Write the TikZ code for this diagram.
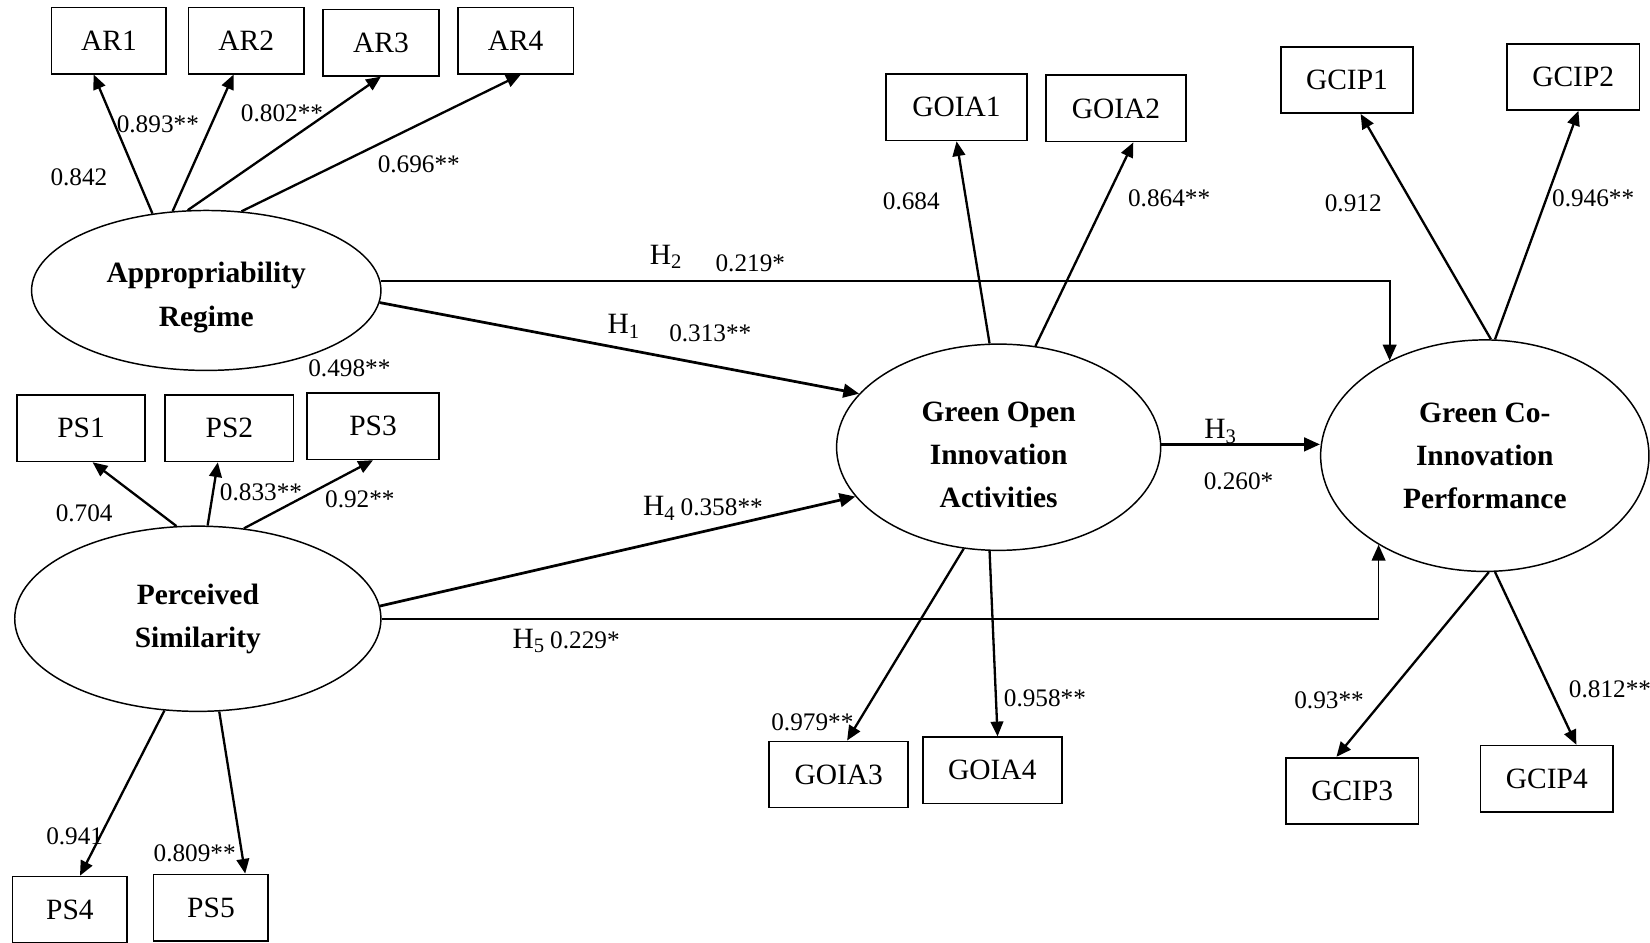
\documentclass[tikz,border=0pt]{standalone}
\usepackage{fontspec}
\setmainfont{Liberation Serif}
\usepackage{tikz}
\usetikzlibrary{shapes.geometric}
\usetikzlibrary{arrows.meta}
\usetikzlibrary{calc}

\begin{document}
\begin{tikzpicture}[x=0.5pt, y=-0.5pt]
        \tikzstyle{indicator} = [rectangle, draw, line width=0.8pt, inner sep=0pt, minimum height=31.5pt, font=\fontsize{14}{16}\selectfont]
        \tikzstyle{latent} = [ellipse, draw, line width=0.7pt, inner sep=0pt, align=center, font=\fontsize{14}{20.5}\selectfont\bfseries]
        \tikzstyle{load} = [-{Triangle[length=7pt, width=6pt]}, line width=1.1pt]
        \tikzstyle{hyp} = [-{Triangle[length=7.5pt, width=6.5pt]}]
        \tikzstyle{coef} = [inner sep=0pt, font=\fontsize{12}{14}\selectfont]
        \tikzstyle{hlab} = [inner sep=0pt, font=\fontsize{14}{16}\selectfont]

        \useasboundingbox (0,0) rectangle (1568,896);

        \node[latent, minimum width=166pt, minimum height=76pt] (AR) at (196,276) {\rule{0pt}{16.5pt}Appropriability\\Regime};
        \node[latent, minimum width=174pt, minimum height=88pt] (PS) at (188,588) {Perceived\\Similarity};
        \node[latent, minimum width=154pt, minimum height=98pt] (GOIA) at (949,425) {\rule{0pt}{16.5pt}Green Open\\Innovation\\Activities};
        \node[latent, minimum width=156pt, minimum height=110pt] (GCIP) at (1411,433) {Green Co-\\Innovation\\Performance};

        \foreach \n/\x/\y/\w in {AR1/103.5/38.5/54.5pt, AR2/234/38.5/55pt, AR3/362/40.5/55pt, AR4/490/38.5/55pt,
                PS1/77/407/61pt, PS2/218/407/61pt, PS3/354.5/405/62.5pt, PS4/66.5/864.5/54.5pt, PS5/200.5/862.5/54.5pt,
                GOIA1/909/102/67pt, GOIA2/1060.5/103/66.5pt, GOIA3/797/736/66pt, GOIA4/943/732/66pt,
                GCIP1/1280/76/63pt, GCIP2/1495/73/63pt, GCIP3/1285/751.5/63pt, GCIP4/1470/740/63pt}
                \node[indicator, minimum width=\w] (\n) at (\x,\y) {\n};

        \foreach \a/\n/\s/\side in {AR.125/AR1/-7.25pt/south, AR.113/AR2/-6pt/south, AR.103/AR3/0pt/south, AR.66/AR4/2.5pt/south,
                PS.103/PS1/5.5pt/south, PS.84/PS2/-5.5pt/south, PS.63/PS3/0pt/south, PS.250/PS4/4.75pt/north, PS.283/PS5/16.25pt/north,
                GOIA.95/GOIA1/0pt/south, GOIA.70/GOIA2/8.25pt/south, GOIA.251/GOIA3/4pt/north, GOIA.265/GOIA4/2.5pt/north,
                GCIP.87/GCIP1/6.5pt/south, GCIP.85/GCIP2/2.5pt/south, GCIP.272/GCIP3/-7.5pt/north, GCIP.275/GCIP4/14pt/north}
                \draw[load] (\a) -- ([xshift=\s]\n.\side);

        \draw[hyp, line width=0.8pt] (AR.3) -| (GCIP.135);
        \draw[hyp, line width=1.3pt] (AR.-4) -- (GOIA.159);
        \draw[hyp, line width=1.3pt] (PS.4) -- (GOIA.199);
        \draw[hyp, line width=0.8pt] (PS.east) -| (GCIP.220);
        \draw[hyp, line width=1.1pt] (GOIA.1) -- (GOIA.1 -| GCIP.west);

        \foreach \x/\y/\t [count=\i] in {75/168/0.842, 150/118/0.893**, 268/108/0.802**, 398/156/0.696**, 332/350/0.498**,
                80/488/0.704, 248/468/0.833**, 342/474/0.92**, 71/795/0.941, 185/811/0.809**,
                713/250/0.219*, 675/317/0.313**, 1177/457/0.260*,
                866/191/0.684, 1111/188/0.864**, 772/686/0.979**, 993/664/0.958**,
                1286/193/0.912, 1514/188/0.946**, 1263/665/0.93**, 1530/655/0.812**}
                \node[coef] (c\i) at (\x,\y) {\t};

        \node[hlab] (h1) at (593,310) {H\textsubscript{1}};
        \node[hlab] (h2) at (633,244) {H\textsubscript{2}};
        \node[hlab] (h3) at (1160,410) {H\textsubscript{3}};
        \node[hlab] (h4) at (668,483) {H\textsubscript{4}\,{\fontsize{12}{14}\selectfont 0.358**}};
        \node[hlab] (h5) at (538,609) {H\textsubscript{5}\,{\fontsize{12}{14}\selectfont 0.229*}};
\end{tikzpicture}
\end{document}
